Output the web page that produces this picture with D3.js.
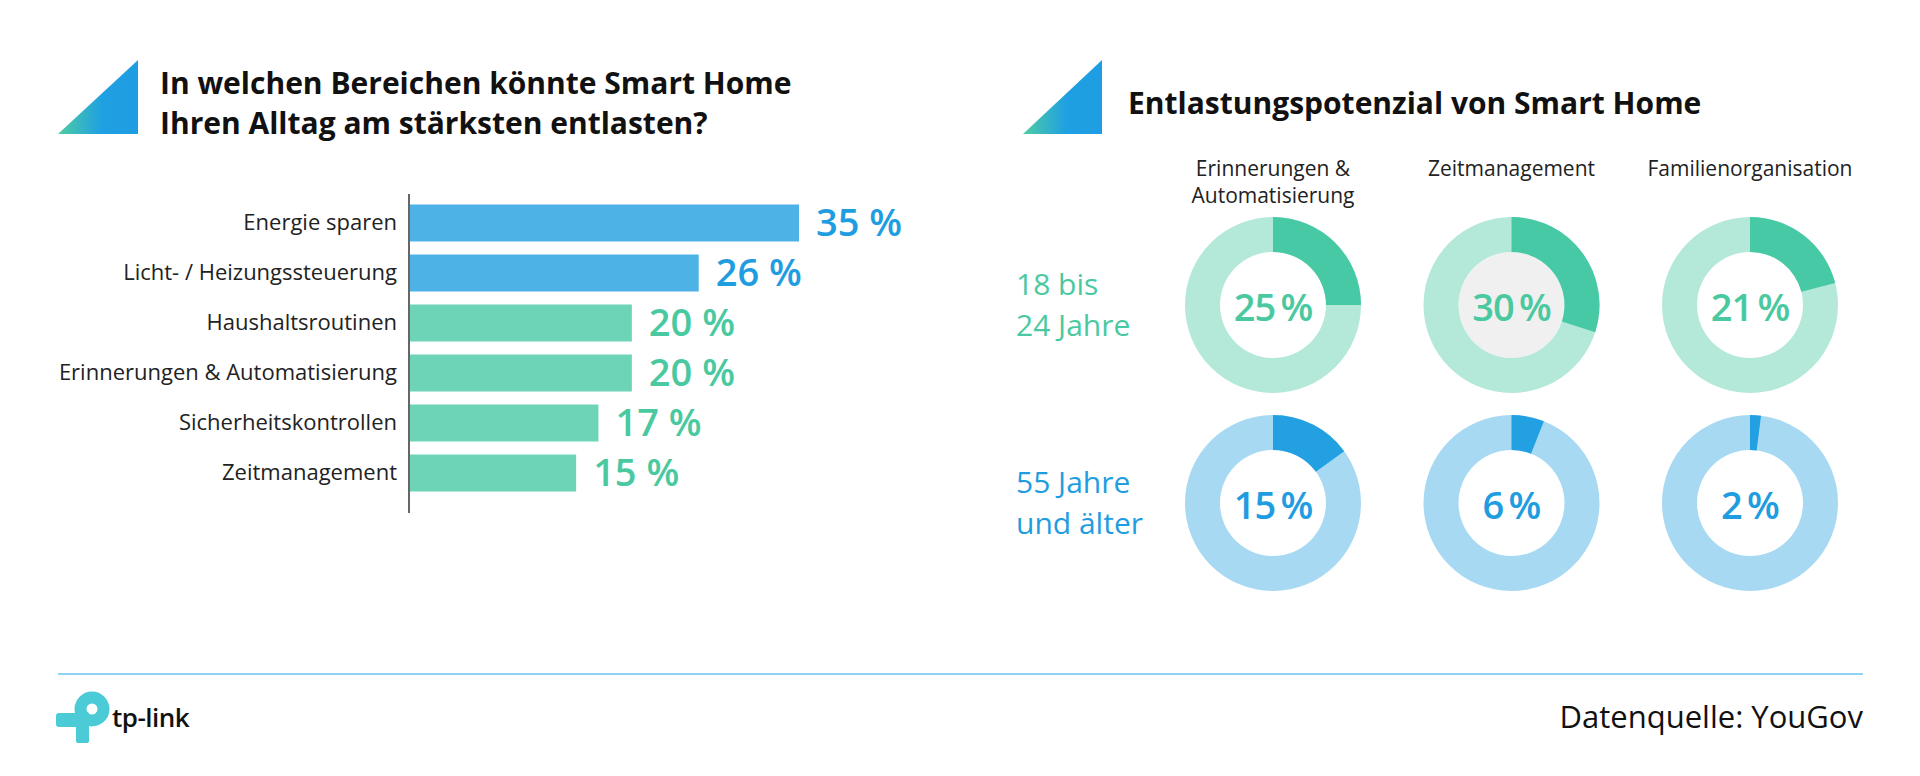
<!DOCTYPE html>
<html>
<head>
<meta charset="utf-8">
<script src="https://cdn.jsdelivr.net/npm/d3@7"></script>
<style>
  body { margin: 0; background: #fff; }
  svg text { font-family: "Open Sans", "Noto Sans", sans-serif; }
</style>
</head>
<body>
<svg id="chart" width="1920" height="776"></svg>
<script>
// bar chart data
const barCategories = [
  "Energie sparen",
  "Licht- / Heizungssteuerung",
  "Haushaltsroutinen",
  "Erinnerungen & Automatisierung",
  "Sicherheitskontrollen",
  "Zeitmanagement"
];
const barValues = [35, 26, 20, 20, 17, 15];
const barHighlight = [true, true, false, false, false, false];

// donut data
const donutColumns = ["Erinnerungen & Automatisierung", "Zeitmanagement", "Familienorganisation"];
const donutHeaderLines = [["Erinnerungen &", "Automatisierung"], ["Zeitmanagement"], ["Familienorganisation"]];
const ageGroups = ["18 bis 24 Jahre", "55 Jahre und älter"];
const ageLines = [["18 bis", "24 Jahre"], ["55 Jahre", "und älter"]];
const youngValues = [25, 30, 21];
const oldValues = [15, 6, 2];

const titleLeft = ["In welchen Bereichen könnte Smart Home", "Ihren Alltag am stärksten entlasten?"];
const titleRight = "Entlastungspotenzial von Smart Home";
const sourceText = "Datenquelle: YouGov";

const colors = {
  blueBar: "#4db3e6",
  greenBar: "#6dd4b8",
  blueText: "#1f9de0",
  greenText: "#4ac9a0",
  greenDark: "#48c9a5",
  greenLight: "#b4e9da",
  blueDark: "#22a0e2",
  blueLight: "#a8d9f3",
  ink: "#111"
};

const svg = d3.select("#chart");

// gradient for the title triangles
const defs = svg.append("defs");
const grad = defs.append("linearGradient").attr("id", "tri").attr("x1", "0").attr("x2", "1").attr("y1", "0").attr("y2", "0");
grad.append("stop").attr("offset", "0%").attr("stop-color", "#4fcca3");
grad.append("stop").attr("offset", "55%").attr("stop-color", "#1fa0e2");
grad.append("stop").attr("offset", "100%").attr("stop-color", "#1f9de3");

function triangle(x0, y0, w, h) {
  svg.append("path")
    .attr("d", `M${x0},${y0 + h}L${x0 + w},${y0}L${x0 + w},${y0 + h}Z`)
    .attr("fill", "url(#tri)");
}

// ---------- left panel: bars ----------
triangle(58, 60, 80, 74);
svg.append("g").selectAll("text")
  .data(titleLeft)
  .join("text")
  .attr("x", 160)
  .attr("y", (d, i) => 94 + i * 40)
  .attr("font-size", 30)
  .attr("font-weight", 700)
  .attr("fill", colors.ink)
  .text(d => d);

const x = d3.scaleLinear().domain([0, 35]).range([409, 799]);
const y = d3.scaleBand().domain(barCategories).range([198, 498]).paddingInner(0.26).paddingOuter(0.13);

const bars = svg.append("g");
bars.selectAll("rect")
  .data(barCategories)
  .join("rect")
  .attr("x", x(0))
  .attr("y", d => y(d))
  .attr("height", y.bandwidth())
  .attr("width", (d, i) => x(barValues[i]) - x(0))
  .attr("fill", (d, i) => barHighlight[i] ? colors.blueBar : colors.greenBar);

bars.selectAll("text.val")
  .data(barCategories)
  .join("text")
  .attr("class", "val")
  .attr("x", (d, i) => x(barValues[i]) + 17)
  .attr("y", d => y(d) + y.bandwidth() / 2)
  .attr("dy", "0.35em")
  .attr("font-size", 38)
  .attr("font-weight", 600)
  .attr("fill", (d, i) => barHighlight[i] ? colors.blueText : colors.greenText)
  .text((d, i) => barValues[i] + " %");

const yAxis = svg.append("g")
  .attr("transform", `translate(${x(0)},0)`)
  .call(d3.axisLeft(y).tickSize(0).tickPadding(12));
yAxis.select(".domain").remove();
yAxis.selectAll("text")
  .attr("font-size", 22)
  .attr("fill", "#222")
  .style("font-family", "'Open Sans', sans-serif");
svg.append("line")
  .attr("x1", x(0)).attr("x2", x(0))
  .attr("y1", 194).attr("y2", 513)
  .attr("stroke", "#666").attr("stroke-width", 2);

// ---------- right panel: donuts ----------
triangle(1023, 60, 79, 74);
svg.append("text")
  .attr("x", 1128)
  .attr("y", 114)
  .attr("font-size", 30)
  .attr("font-weight", 700)
  .attr("fill", colors.ink)
  .text(titleRight);

const cx = d3.scalePoint().domain(donutColumns).range([1273, 1750]);
const cy = d3.scalePoint().domain(ageGroups).range([305, 503]);

const header = svg.append("g");
donutColumns.forEach((c, i) => {
  const lines = donutHeaderLines[i];
  header.append("text")
    .attr("x", cx(c))
    .attr("y", 176)
    .attr("text-anchor", "middle")
    .attr("font-size", 21)
    .attr("fill", "#222")
    .selectAll("tspan")
    .data(lines)
    .join("tspan")
    .attr("x", cx(c))
    .attr("dy", (d, j) => j ? 27 : 0)
    .text(d => d);
});

ageGroups.forEach((g, r) => {
  svg.append("text")
    .attr("x", 1016)
    .attr("y", cy(g) - 10)
    .attr("font-size", 30)
    .attr("fill", r ? colors.blueText : colors.greenText)
    .selectAll("tspan")
    .data(ageLines[r])
    .join("tspan")
    .attr("x", 1016)
    .attr("dy", (d, j) => j ? 41 : 0)
    .text(d => d);
});

const arc = d3.arc().innerRadius(53).outerRadius(88);
const rows = [youngValues, oldValues];

rows.forEach((vals, r) => {
  const dark = r ? colors.blueDark : colors.greenDark;
  const light = r ? colors.blueLight : colors.greenLight;
  const g = svg.append("g").selectAll("g")
    .data(donutColumns)
    .join("g")
    .attr("transform", d => `translate(${cx(d)},${cy(ageGroups[r])})`);

  // the hovered-looking centre in the reference
  g.filter((d, i) => r === 0 && i === 1)
    .append("circle")
    .attr("r", 53)
    .attr("fill", "#f0f0f0");

  g.append("path")
    .attr("d", arc({ startAngle: 0, endAngle: 2 * Math.PI }))
    .attr("fill", light);

  g.append("path")
    .attr("d", (d, i) => arc({ startAngle: 0, endAngle: vals[i] / 100 * 2 * Math.PI }))
    .attr("fill", dark);

  g.append("text")
    .attr("text-anchor", "middle")
    .attr("y", 16)
    .attr("font-size", 38)
    .attr("font-weight", 600)
    .attr("letter-spacing", -1)
    .attr("fill", r ? colors.blueText : colors.greenText)
    .text((d, i) => vals[i] + "\u2009%");
});

// ---------- footer ----------
svg.append("line")
  .attr("x1", 58).attr("x2", 1863)
  .attr("y1", 674).attr("y2", 674)
  .attr("stroke", "#8fd3f0").attr("stroke-width", 2);

svg.append("text")
  .attr("x", 1863)
  .attr("y", 728)
  .attr("text-anchor", "end")
  .attr("font-size", 31)
  .attr("fill", colors.ink)
  .text(sourceText);

// tp-link logo
const logo = svg.append("g").attr("fill", "#4acbd6");
logo.append("circle").attr("cx", 92).attr("cy", 709).attr("r", 11.5)
  .attr("fill", "none").attr("stroke", "#4acbd6").attr("stroke-width", 12);
logo.append("rect").attr("x", 76).attr("y", 712).attr("width", 13).attr("height", 31).attr("rx", 2);
logo.append("rect").attr("x", 56).attr("y", 713).attr("width", 30).attr("height", 14).attr("rx", 3);
svg.append("text")
  .attr("x", 112)
  .attr("y", 727)
  .attr("font-size", 26)
  .attr("font-weight", 600)
  .attr("letter-spacing", -0.5)
  .attr("fill", "#111")
  .text("tp-link");
</script>
</body>
</html>
